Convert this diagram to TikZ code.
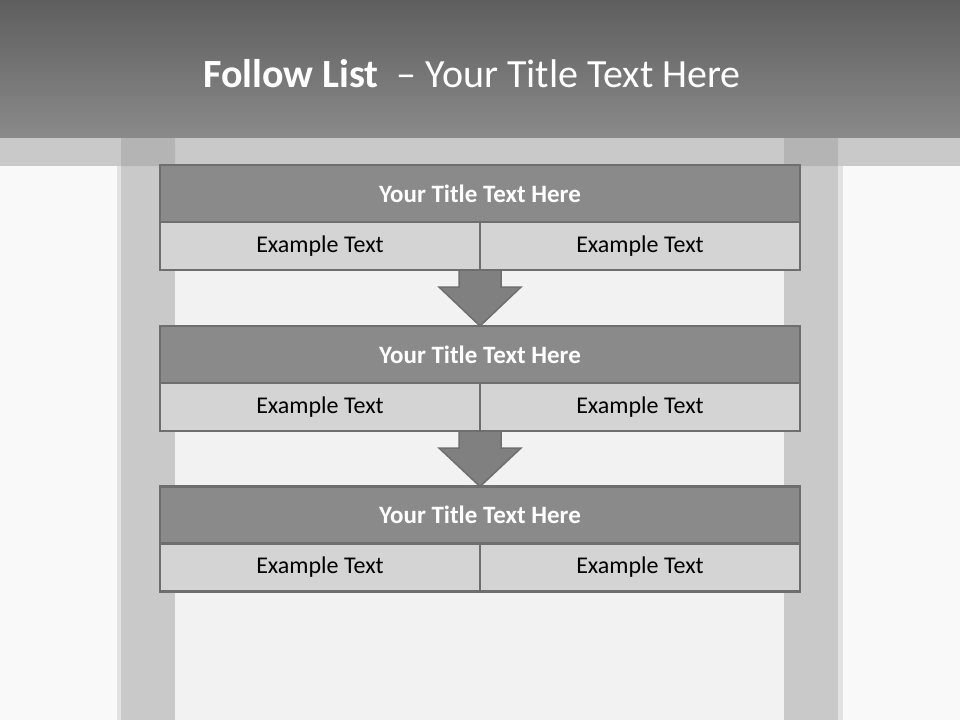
\documentclass[tikz,border=0pt]{standalone}
\usepackage{fontspec}
\setmainfont{Carlito}
\usetikzlibrary{calc}
\definecolor{pagebg}{HTML}{F9F9F9}
\definecolor{midbg}{HTML}{F2F2F2}
\definecolor{pillar}{HTML}{C9C9C9}
\definecolor{pillartop}{HTML}{B4B4B4}
\definecolor{pilledge}{HTML}{E2E2E2}
\definecolor{boxline}{HTML}{6E6E6E}
\definecolor{titlefill}{HTML}{8A8A8A}
\definecolor{cellfill}{HTML}{D4D4D4}
\definecolor{arrowfill}{HTML}{808080}
\begin{document}
\begin{tikzpicture}[x=1pt,y=-1pt,
	titlebox/.style={draw=boxline,line width=2.5pt,fill=titlefill,text=white,outer sep=0pt,inner sep=0pt,
		minimum width=640pt,minimum height=57pt,font=\fontsize{25}{30}\selectfont\bfseries},
	cellbox/.style={draw=boxline,line width=2.5pt,fill=cellfill,text=black,outer sep=0pt,inner sep=0pt,
		minimum width=320pt,minimum height=48pt,font=\fontsize{24}{29}\selectfont},
	downarrow/.style={draw=boxline,line width=1.5pt,fill=arrowfill,line join=miter}]
	\useasboundingbox (0,0) rectangle (960,720);
	% background
	\fill[pagebg] (0,0) rectangle (960,720);
	\fill[pilledge] (117,137) rectangle (843,720);
	\fill[pillar] (121,137) rectangle (838,720);
	\fill[midbg] (175,137) rectangle (784,720);
	\fill[pillar] (0,137) rectangle (960,166);
	\fill[pillartop] (121,137) rectangle (175,166) (784,137) rectangle (838,166);
	\shade[top color=black!63,bottom color=black!46] (0,0) rectangle (960,137);
	\node[anchor=base west,text=white,inner sep=0pt,font=\fontsize{40}{48}\selectfont] (head) at (203,87)
		{\textbf{Follow List}\ \ – Your Title Text Here};
	% boxes
	\foreach \i/\y in {1/193.5,2/354.5,3/515}{
		\node[titlebox] (t\i) at (480,\y) {Your Title Text Here};
		\node[cellbox,anchor=north west] (l\i) at (t\i.south west) {Example Text};
		\node[cellbox,anchor=north east] (r\i) at (t\i.south east) {Example Text};
	}
	% arrows
	\foreach \i/\j in {1/2,2/3}{
		\draw[downarrow] ($(l\i.south east)+(-21,0)$) -- ($(l\i.south east)+(-21,17)$)
			-- ($(l\i.south east)+(-41,17)$) -- (t\j.north) -- ($(l\i.south east)+(41,17)$)
			-- ($(l\i.south east)+(21,17)$) -- ($(l\i.south east)+(21,0)$) -- cycle;
	}
\end{tikzpicture}
\end{document}
